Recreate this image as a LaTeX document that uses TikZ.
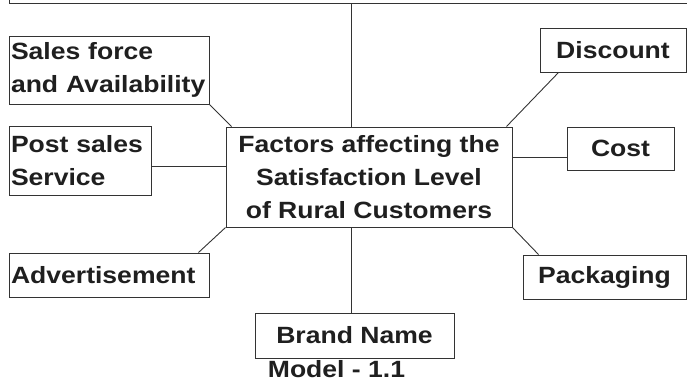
\documentclass[tikz,border=0pt]{standalone}
\usepackage{fontspec}
\setmainfont{Liberation Sans}[FakeStretch=1.13]
\usetikzlibrary{calc}

\colorlet{figLine}{black!80}
\colorlet{figText}{black!88}

\begin{document}
\begin{tikzpicture}[x=1pt, y=-1pt,
    box/.style={draw=figLine, line width=1pt, text=figText, inner sep=0pt,
      align=center, font=\fontsize{23.5}{33}\selectfont\bfseries},
    lbox/.style={box, align=left, inner xsep=2pt},
    link/.style={draw=figLine, line width=0.9pt}]
        \useasboundingbox (0,0) rectangle (687,381);
        % box at the top, cut by the page edge
        \node[box, minimum width=691, minimum height=60] (qual) at (354.5,-26.5) {};
        \node[lbox, text width=196pt, minimum height=68] (sales) at (109,70)
              {Sales force\\and Availability};
        \node[lbox, text width=138pt, minimum height=69] (post) at (80,160.5)
              {Post sales\\Service};
        \node[lbox, text width=196pt, minimum height=44] (adv) at (109,275)
              {Advertisement};
        \node[box, minimum width=286, minimum height=100] (ctr) at (369,177)
              {Factors affecting the\\Satisfaction Level\\of Rural Customers};
        \node[box, minimum width=146, minimum height=44] (disc) at (613,50) {Discount};
        \node[box, minimum width=107, minimum height=43] (cost) at (620.5,148.5) {Cost};
        \node[box, minimum width=163, minimum height=44] (pack) at (604.5,277) {Packaging};
        \node[box, minimum width=199, minimum height=45] (brand) at (354.5,335.5) {Brand Name};
        \node[box, draw=none, anchor=base] (model) at (336.5,377) {Model - 1.1};
        % connectors
        \coordinate (stem) at (351.5,0);
        \draw[link] (qual.south -| stem) -- (ctr.north -| stem);
        \draw[link] (ctr.south -| stem) -- (brand.north -| stem);
        \draw[link] (sales.south east) -- ($(ctr.north west)+(6,0)$);
        \draw[link] ($(post.east)+(0,5.5)$) coordinate (pe) -- (pe -| ctr.west);
        \draw[link] ($(cost.west)+(0,9)$) coordinate (ce) -- (ce -| ctr.east);
        \draw[link] ($(disc.south west)+(19,0)$) -- ($(ctr.north east)+(-6,0)$);
        \draw[link] (ctr.south west) -- ($(adv.north east)+(-11,0)$);
        \draw[link] (ctr.south east) -- ($(pack.north west)+(16,0)$);
\end{tikzpicture}
\end{document}
